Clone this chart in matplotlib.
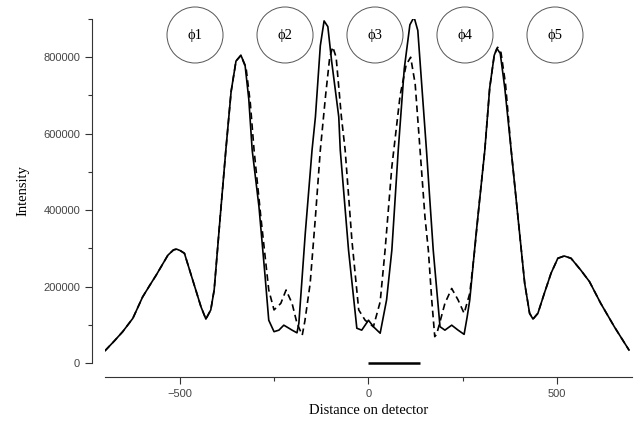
import matplotlib
matplotlib.use("Agg")
import matplotlib.pyplot as plt
from matplotlib.patches import Ellipse
from matplotlib.ticker import MultipleLocator

# solid curve
solid_x = [-700, -675, -653, -626, -600, -580, -564, -533, -518, -510, -500, -489, -467, -445,
           -432, -419, -410, -395, -379, -365, -352, -339, -328, -318, -309, -291, -275, -265,
           -251, -238, -225, -213, -203, -190, -185, -168, -150, -141, -128, -118, -108, -98,
           -79, -75, -53, -31, -18, 0, 13, 31, 48, 62, 79, 95, 110, 121, 131, 142, 154, 172,
           190, 203, 221, 238, 254, 262, 269, 286, 309, 322, 334, 341, 350, 362, 379, 397, 415,
           428, 437, 450, 467, 485, 503, 520, 538, 564, 587, 617, 653, 692]
solid_y = [32000, 58000, 82000, 117000, 173000, 205000, 230000, 282000, 296000, 298000, 294000,
           287000, 217000, 147000, 115000, 139000, 191000, 370000, 557000, 710000, 790000,
           805000, 780000, 690000, 557000, 409000, 230000, 112000, 82000, 86000, 99000, 92000,
           86000, 79000, 104000, 339000, 557000, 644000, 830000, 895000, 880000, 790000, 644000,
           557000, 295000, 91000, 86000, 112000, 95000, 78000, 165000, 295000, 557000, 770000,
           885000, 905000, 870000, 720000, 557000, 295000, 95000, 86000, 99000, 86000, 75000,
           120000, 165000, 339000, 557000, 720000, 805000, 823000, 810000, 720000, 557000,
           382000, 208000, 130000, 115000, 130000, 182000, 235000, 274000, 280000, 274000,
           243000, 213000, 156000, 95000, 34000]

# dashed curve
dash_x = [-700, -675, -653, -626, -600, -580, -564, -533, -518, -510, -500, -489, -467, -445,
          -432, -419, -410, -395, -379, -365, -352, -339, -325, -314, -304, -286, -265, -251,
          -233, -219, -203, -190, -176, -169, -155, -141, -128, -114, -103, -95, -86, -72, -62,
          -44, -26, -9, 0, 13, 31, 44, 62, 84, 100, 112, 124, 137, 150, 159, 168, 176, 181,
          203, 221, 238, 254, 269, 282, 295, 309, 322, 334, 343, 352, 364, 379, 397, 415, 428,
          437, 450, 467, 485, 503, 520, 538, 564, 587, 617, 653, 692]
dash_y = [32000, 58000, 82000, 117000, 173000, 205000, 230000, 282000, 296000, 298000, 294000,
          287000, 217000, 147000, 115000, 139000, 191000, 370000, 557000, 710000, 790000,
          805000, 770000, 680000, 557000, 382000, 191000, 139000, 156000, 191000, 156000,
          104000, 73000, 110000, 208000, 382000, 557000, 700000, 800000, 827000, 800000,
          644000, 557000, 320000, 139000, 112000, 105000, 95000, 160000, 295000, 513000,
          700000, 780000, 800000, 730000, 557000, 382000, 295000, 165000, 69000, 75000, 156000,
          195000, 165000, 130000, 182000, 295000, 426000, 557000, 720000, 805000, 826000,
          812000, 730000, 557000, 382000, 208000, 130000, 115000, 130000, 182000, 235000,
          274000, 280000, 274000, 243000, 213000, 156000, 95000, 34000]

scale_bar_x = [0, 137]
scale_bar_y = [0, 0]

phase_labels = ["\u03d51", "\u03d52", "\u03d53", "\u03d54", "\u03d55"]

fig = plt.figure(figsize=(6.36, 4.29), dpi=100)
ax = fig.add_axes([0.1651, 0.1538, 0.8286, 0.8019])

ax.plot(solid_x, solid_y, color="black", lw=1.2)
ax.plot(dash_x, dash_y, color="black", lw=1.2, dashes=(4, 2.5))
ax.plot(scale_bar_x, scale_bar_y, color="black", lw=1.8, clip_on=False,
        solid_capstyle="butt")

ax.set_xlim(-700, 700)
ax.set_ylim(0, 900000)

for s in ["top", "right"]:
    ax.spines[s].set_visible(False)
ax.spines["left"].set_position(("outward", 9.5))
ax.spines["bottom"].set_position(("outward", 10))
for s in ["left", "bottom"]:
    ax.spines[s].set_color("#333333")
    ax.spines[s].set_linewidth(0.8)

ax.xaxis.set_major_locator(MultipleLocator(500))
ax.xaxis.set_minor_locator(MultipleLocator(250))
ax.yaxis.set_major_locator(MultipleLocator(200000))
ax.yaxis.set_minor_locator(MultipleLocator(100000))
ax.set_yticks([0, 200000, 400000, 600000, 800000])
ax.tick_params(which="major", length=5, width=0.8, color="#333333",
               labelsize=8, labelcolor="#444444")
ax.tick_params(which="minor", length=3, width=0.8, color="#333333")
for lab in ax.get_xticklabels() + ax.get_yticklabels():
    lab.set_family("Liberation Sans")

ax.set_xlabel("Distance on detector", family="Liberation Serif", fontsize=10.5, labelpad=4)
ax.set_ylabel("Intensity", family="Liberation Serif", fontsize=10.5, labelpad=10)

# phase circles along the top
cx = [0.1708, 0.3416, 0.5123, 0.6831, 0.8539]
for x, lab in zip(cx, phase_labels):
    ax.add_patch(Ellipse((x, 0.9535), 0.1063, 0.1628, transform=ax.transAxes,
                         fill=True, fc="white", ec="#555555", lw=0.7, clip_on=False,
                         zorder=3))
    ax.text(x, 0.9535, lab, transform=ax.transAxes, ha="center", va="center",
            family="Liberation Serif", fontsize=10.5, zorder=4)

fig.savefig("out.png", dpi=100)
